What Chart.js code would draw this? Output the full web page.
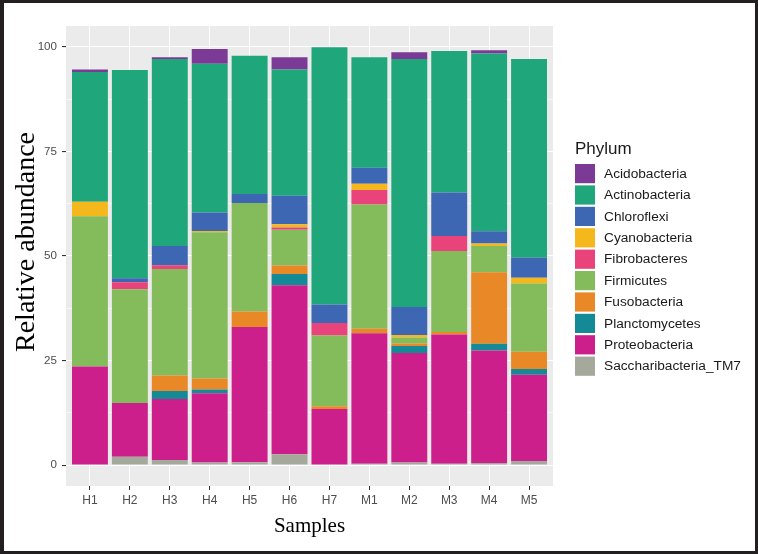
<!DOCTYPE html>
<html>
<head>
<meta charset="utf-8">
<script src="https://cdn.jsdelivr.net/npm/chart.js@4.4.1/dist/chart.umd.min.js"></script>
<style>
  html, body { margin: 0; padding: 0; background: #fff; }
  #wrap { position: relative; width: 758px; height: 554px; }
  #frame {
    position: absolute; left: 0; top: 0; width: 758px; height: 554px; box-sizing: border-box;
    border-style: solid; border-color: #231f20; border-width: 3px 3px 3px 4px; pointer-events: none;
  }
  canvas { position: absolute; left: 0; top: 0; }
</style>
</head>
<body>
<div id="wrap">
  <canvas id="abundanceChart" width="758" height="554"></canvas>
  <div id="frame"></div>
</div>
<script>
// samples on the x axis
const samples = ['H1', 'H2', 'H3', 'H4', 'H5', 'H6', 'H7', 'M1', 'M2', 'M3', 'M4', 'M5'];
const yTicks = [0, 25, 50, 75, 100];

// relative abundance per phylum
const acidobacteria    = [0.6, 0,    0.4,  3.5,  0,    2.9,  0,    0,    1.6,  0,    0.8,  0];
const actinobacteria   = [31.0, 49.8, 44.7, 35.6, 33.1, 30.2, 61.5, 26.4, 59.3, 33.8, 42.5, 47.5];
const chloroflexi      = [0,    0.9,  4.6,  4.4,  2.1,  6.8,  4.4,  3.8,  6.7,  10.4, 2.9,  4.8];
const cyanobacteria    = [3.5,  0,    0,    0.3,  0,    0.8,  0,    1.5,  0.6,  0,    0.6,  1.4];
const fibrobacteres    = [0,    1.7,  0.9,  0,    0,    0.5,  3.0,  3.5,  0,    3.6,  0,    0];
const firmicutes       = [35.9, 27.2, 25.5, 35.0, 26.0, 8.6,  16.9, 29.7, 1.4,  19.4, 6.3,  16.3];
const fusobacteria     = [0,    0,    3.7,  2.6,  3.7,  2.0,  0.7,  1.1,  0.6,  0.6,  17.1, 4.1];
const planctomycetes   = [0,    0,    1.9,  0.9,  0,    2.7,  0,    0,    1.7,  0,    1.6,  1.4];
const proteobacteria   = [23.6, 12.85, 14.6, 16.6, 32.3, 40.4, 13.4, 31.2, 26.2, 30.9, 26.9, 20.6];
const saccharibacteria = [0,    2.0,  1.2,  0.6,  0.7,  2.6,  0,    0.3,  0.6,  0.3,  0.5,  1.0];

// stacking order, bottom first
const phyla = [
  { name: 'Saccharibacteria_TM7', values: saccharibacteria, color: '#a5a99b' },
  { name: 'Proteobacteria', values: proteobacteria, color: '#cd1f8c' },
  { name: 'Planctomycetes', values: planctomycetes, color: '#148a96' },
  { name: 'Fusobacteria', values: fusobacteria, color: '#e88826' },
  { name: 'Firmicutes', values: firmicutes, color: '#84bc5b' },
  { name: 'Fibrobacteres', values: fibrobacteres, color: '#e8437a' },
  { name: 'Cyanobacteria', values: cyanobacteria, color: '#f4b81c' },
  { name: 'Chloroflexi', values: chloroflexi, color: '#3d66b3' },
  { name: 'Actinobacteria', values: actinobacteria, color: '#1fa67a' },
  { name: 'Acidobacteria', values: acidobacteria, color: '#7b3a96' }
];

// grey panel behind the bars
const panelBackground = {
  id: 'panelBackground',
  beforeDraw(chart) {
    const { ctx, chartArea } = chart;
    ctx.save();
    ctx.fillStyle = '#ffffff';
    ctx.fillRect(0, 0, chart.width, chart.height);
    ctx.fillStyle = '#ebebeb';
    ctx.fillRect(chartArea.left, chartArea.top, chartArea.right - chartArea.left, chartArea.bottom - chartArea.top);
    ctx.restore();
  }
};

// ggplot style legend on the right, top phylum first
const phylumLegend = {
  id: 'phylumLegend',
  afterDraw(chart) {
    const ctx = chart.ctx;
    const items = chart.data.datasets.slice().reverse();
    ctx.save();
    ctx.fillStyle = '#1a1a1a';
    ctx.font = '17px "Liberation Sans", Arial, sans-serif';
    ctx.textBaseline = 'alphabetic';
    ctx.textAlign = 'left';
    ctx.fillText('Phylum', 575, 154);
    ctx.font = '13.7px "Liberation Sans", Arial, sans-serif';
    ctx.textBaseline = 'middle';
    items.forEach((ds, i) => {
      const top = 164 + i * 21.4;
      ctx.fillStyle = ds.backgroundColor;
      ctx.fillRect(575, top, 20, 19.2);
      ctx.fillStyle = '#1a1a1a';
      ctx.fillText(ds.label, 604, top + 10);
    });
    ctx.restore();
  }
};

const ctx = document.getElementById('abundanceChart').getContext('2d');

const abundanceChart = new Chart(ctx, {
  type: 'bar',
  data: {
    datasets: phyla.map(p => ({
      label: p.name,
      data: p.values.map((v, i) => ({ x: i, y: v })),
      backgroundColor: p.color,
      borderWidth: 0,
      barPercentage: 0.9,
      categoryPercentage: 1.0
    }))
  },
  options: {
    responsive: false,
    animation: false,
    devicePixelRatio: 1,
    layout: { padding: { top: 26, right: 205, bottom: 0, left: 0 } },
    plugins: {
      legend: { display: false },
      tooltip: { enabled: false }
    },
    scales: {
      x: {
        type: 'linear',
        stacked: true,
        offset: false,
        min: -0.6,
        max: 11.6,
        afterBuildTicks: scale => { scale.ticks = samples.map((s, i) => ({ value: i })); },
        afterFit: scale => { scale.height = 68; },
        border: { display: false },
        grid: { offset: false, color: '#ffffff', lineWidth: 1, tickColor: '#333333', tickLength: 4 },
        ticks: {
          autoSkip: false,
          maxRotation: 0,
          padding: 3,
          color: '#4d4d4d',
          font: { family: '"Liberation Sans", Arial, sans-serif', size: 12 },
          callback: value => samples[value]
        },
        title: {
          display: true,
          text: 'Samples',
          color: '#000000',
          font: { family: '"Liberation Serif", "Times New Roman", serif', size: 21 },
          padding: { top: 0, bottom: 14.5 }
        }
      },
      y: {
        stacked: true,
        min: -5,
        max: 105,
        afterBuildTicks: scale => {
          scale.ticks = [0, 12.5, 25, 37.5, 50, 62.5, 75, 87.5, 100].map(v => ({ value: v }));
        },
        afterFit: scale => { scale.width = 66; },
        border: { display: false },
        grid: {
          color: '#ffffff',
          lineWidth: c => (yTicks.includes(c.tick.value) ? 1.1 : 0.55),
          tickColor: c => (yTicks.includes(c.tick.value) ? '#333333' : 'rgba(0,0,0,0)'),
          tickLength: 4
        },
        ticks: {
          padding: 5,
          color: '#4d4d4d',
          font: { family: '"Liberation Sans", Arial, sans-serif', size: 11.6 },
          callback: value => (yTicks.includes(value) ? String(value) : '')
        },
        title: {
          display: true,
          text: '    Relative abundance',
          color: '#000000',
          font: { family: '"Liberation Serif", "Times New Roman", serif', size: 28 },
          padding: { top: 10, bottom: 0 }
        }
      }
    }
  },
  plugins: [panelBackground, phylumLegend]
});
</script>
</body>
</html>
